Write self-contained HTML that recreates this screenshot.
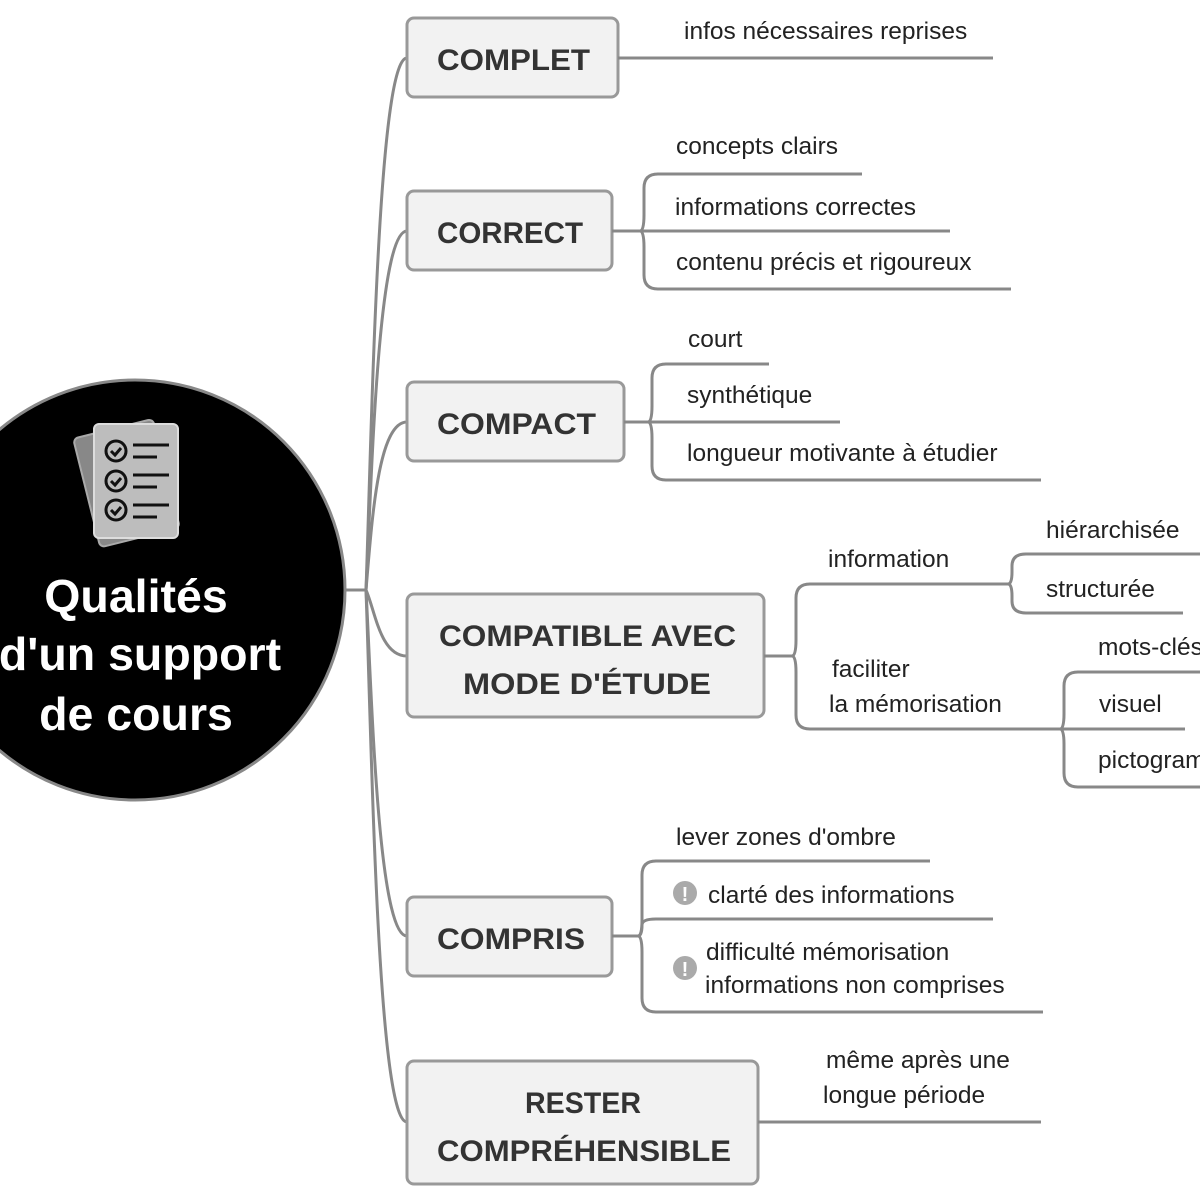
<!DOCTYPE html>
<html><head><meta charset="utf-8"><style>
html,body{margin:0;padding:0;background:#fff;}
svg{display:block}
.b{font-family:"Liberation Sans","DejaVu Sans",sans-serif;font-weight:bold;fill:#333;font-size:30px}
.t{font-family:"Liberation Sans","DejaVu Sans",sans-serif;fill:#222;font-size:24.5px}
.l{fill:none;stroke:#888;stroke-width:3}
.box{fill:#f2f2f2;stroke:#999;stroke-width:3}
</style></head><body>
<svg width="1200" height="1200" viewBox="0 0 1200 1200" xmlns="http://www.w3.org/2000/svg">
<rect width="1200" height="1200" fill="#fff"/>
<path class="l" d="M340 590 L366 590"/>
<path class="l" d="M366 590 C372 420 378 58 407 58"/>
<path class="l" d="M366 590 C372 470 378 231 407 231"/>
<path class="l" d="M366 590 C372 520 378 422 407 422"/>
<path class="l" d="M366 590 C375 610 380 656 407 656"/>
<path class="l" d="M366 590 C372 700 378 936 407 936"/>
<path class="l" d="M366 590 C372 760 378 1122 407 1122"/>

<circle cx="135" cy="590" r="210" fill="#000" stroke="#888" stroke-width="3"/>
<g transform="rotate(-14 135 480)">
<rect x="85" y="425" width="82" height="112" rx="5" fill="#888" stroke="#aaa" stroke-width="2"/>
</g>
<rect x="94" y="424" width="84" height="114" rx="5" fill="#bdbdbd" stroke="#ddd" stroke-width="2"/>
<g fill="none" stroke="#111" stroke-width="3">
<circle cx="116" cy="451" r="10"/><circle cx="116" cy="481" r="10"/><circle cx="116" cy="510" r="10"/>
<path d="M111 451 l4 4 l6 -7 M111 481 l4 4 l6 -7 M111 510 l4 4 l6 -7"/>
<path d="M133 445 h36 M133 457 h24 M133 475 h36 M133 487 h24 M133 505 h36 M133 517 h24"/>
</g>
<g font-family="Liberation Sans, DejaVu Sans, sans-serif" font-weight="bold" font-size="46.5" fill="#fff" text-anchor="middle">
<text x="136" y="612">Qualités</text>
<text x="140" y="670">d'un support</text>
<text x="136" y="730">de cours</text>
</g>

<rect class="box" x="407" y="18" width="211" height="79" rx="7"/>
<text class="b" x="437" y="70" textLength="153" lengthAdjust="spacingAndGlyphs">COMPLET</text>
<rect class="box" x="407" y="191" width="205" height="79" rx="7"/>
<text class="b" x="437" y="243" textLength="146" lengthAdjust="spacingAndGlyphs">CORRECT</text>
<rect class="box" x="407" y="382" width="217" height="79" rx="7"/>
<text class="b" x="437" y="434" textLength="159" lengthAdjust="spacingAndGlyphs">COMPACT</text>
<rect class="box" x="407" y="594" width="357" height="123" rx="7"/>
<text class="b" x="439" y="646" textLength="297" lengthAdjust="spacingAndGlyphs">COMPATIBLE AVEC</text>
<text class="b" x="463" y="694" textLength="248" lengthAdjust="spacingAndGlyphs">MODE D'ÉTUDE</text>
<rect class="box" x="407" y="897" width="205" height="79" rx="7"/>
<text class="b" x="437" y="949" textLength="148" lengthAdjust="spacingAndGlyphs">COMPRIS</text>
<rect class="box" x="407" y="1061" width="351" height="123" rx="7"/>
<text class="b" x="525" y="1113" textLength="116" lengthAdjust="spacingAndGlyphs">RESTER</text>
<text class="b" x="437" y="1161" textLength="294" lengthAdjust="spacingAndGlyphs">COMPRÉHENSIBLE</text>

<path class="l" d="M618 58 L993 58"/>
<text class="t" x="684" y="39">infos nécessaires reprises</text>

<path class="l" d="M612 231 L950 231"/>
<path class="l" d="M640 231 Q644 231 644 215 L644 188 Q644 174 658 174 L862 174"/>
<path class="l" d="M640 231 Q644 231 644 247 L644 275 Q644 289 658 289 L1011 289"/>
<text class="t" x="676" y="154">concepts clairs</text>
<text class="t" x="675" y="215">informations correctes</text>
<text class="t" x="676" y="270">contenu précis et rigoureux</text>

<path class="l" d="M624 422 L840 422"/>
<path class="l" d="M648 422 Q652 422 652 406 L652 378 Q652 364 666 364 L769 364"/>
<path class="l" d="M648 422 Q652 422 652 438 L652 466 Q652 480 666 480 L1041 480"/>
<text class="t" x="688" y="347">court</text>
<text class="t" x="687" y="403">synthétique</text>
<text class="t" x="687" y="461">longueur motivante à étudier</text>

<path class="l" d="M764 656 L792 656"/>
<path class="l" d="M792 656 Q796 656 796 640 L796 598 Q796 584 810 584 L1010 584"/>
<path class="l" d="M792 656 Q796 656 796 672 L796 715 Q796 729 810 729 L1060 729"/>
<text class="t" x="828" y="567">information</text>
<text class="t" x="832" y="677">faciliter</text>
<text class="t" x="829" y="712">la mémorisation</text>
<path class="l" d="M1008 584 Q1012 584 1012 572 L1012 566 Q1012 554 1026 554 L1200 554"/>
<path class="l" d="M1008 584 Q1012 584 1012 596 L1012 601 Q1012 613 1026 613 L1183 613"/>
<text class="t" x="1046" y="538">hiérarchisée</text>
<text class="t" x="1046" y="597">structurée</text>
<path class="l" d="M1060 729 L1185 729"/>
<path class="l" d="M1060 729 Q1064 729 1064 714 L1064 686 Q1064 672 1078 672 L1200 672"/>
<path class="l" d="M1060 729 Q1064 729 1064 744 L1064 773 Q1064 787 1078 787 L1200 787"/>
<text class="t" x="1098" y="655">mots-clés</text>
<text class="t" x="1099" y="712">visuel</text>
<text class="t" x="1098" y="768">pictogrammes</text>

<path class="l" d="M612 936 L638 936"/>
<path class="l" d="M638 936 Q642 936 642 920 L642 875 Q642 861 656 861 L930 861"/>
<path class="l" d="M638 936 Q642 936 642 925 Q642 919 656 919 L993 919"/>
<path class="l" d="M638 936 Q642 936 642 952 L642 998 Q642 1012 656 1012 L1043 1012"/>
<text class="t" x="676" y="845">lever zones d'ombre</text>
<circle cx="685" cy="893" r="12" fill="#aaa"/>
<text x="685" y="901" text-anchor="middle" font-family="Liberation Sans, sans-serif" font-weight="bold" font-size="20" fill="#fff">!</text>
<text class="t" x="708" y="903">clarté des informations</text>
<circle cx="685" cy="968" r="12" fill="#aaa"/>
<text x="685" y="976" text-anchor="middle" font-family="Liberation Sans, sans-serif" font-weight="bold" font-size="20" fill="#fff">!</text>
<text class="t" x="706" y="960">difficulté mémorisation</text>
<text class="t" x="705" y="993">informations non comprises</text>

<path class="l" d="M758 1122 L1041 1122"/>
<text class="t" x="826" y="1068">même après une</text>
<text class="t" x="823" y="1103">longue période</text>
</svg>
</body></html>
